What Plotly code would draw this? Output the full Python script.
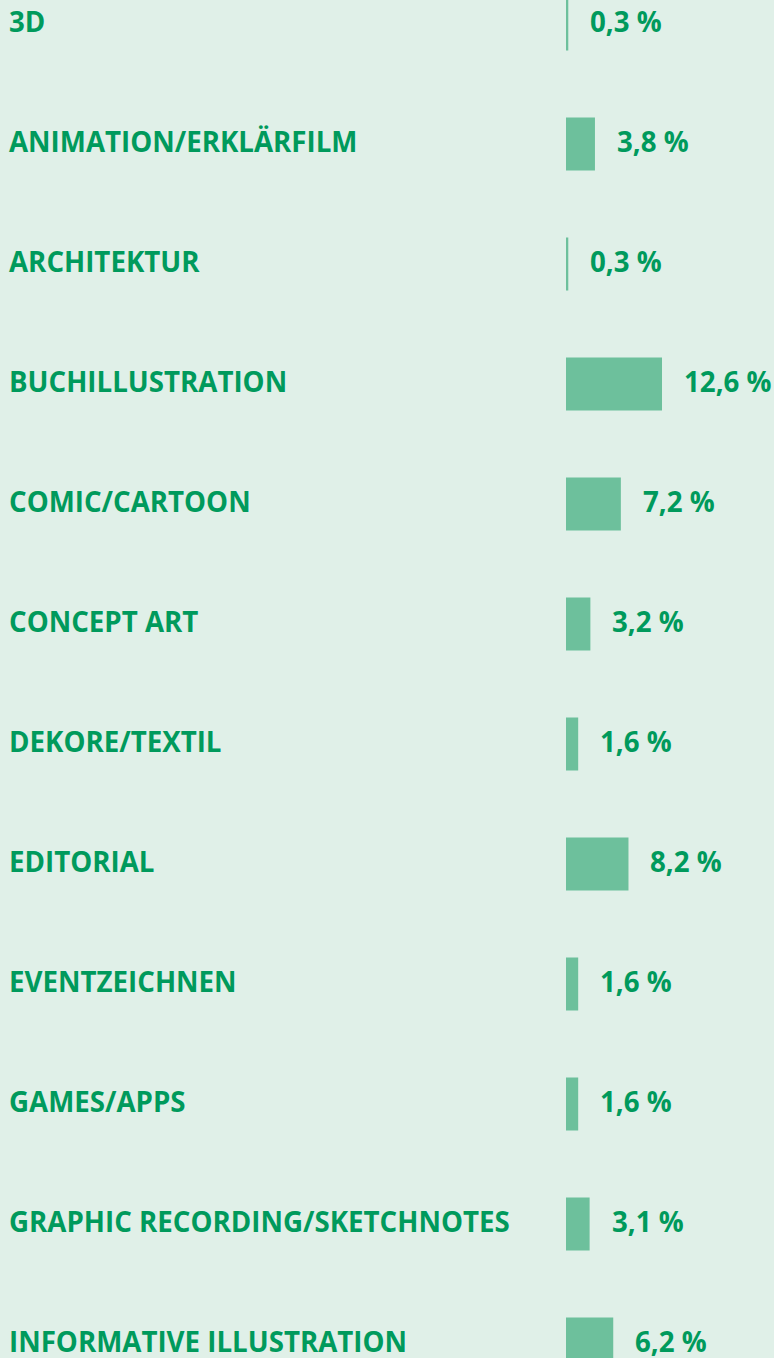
import plotly.graph_objects as go

categories = ["3D", "ANIMATION/ERKLÄRFILM", "ARCHITEKTUR", "BUCHILLUSTRATION",
              "COMIC/CARTOON", "CONCEPT ART", "DEKORE/TEXTIL", "EDITORIAL",
              "EVENTZEICHNEN", "GAMES/APPS", "GRAPHIC RECORDING/SKETCHNOTES",
              "INFORMATIVE ILLUSTRATION"]
values = [0.3, 3.8, 0.3, 12.6, 7.2, 3.2, 1.6, 8.2, 1.6, 1.6, 3.1, 6.2]
value_labels = ["0,3 %", "3,8 %", "0,3 %", "12,6 %", "7,2 %", "3,2 %", "1,6 %",
                "8,2 %", "1,6 %", "1,6 %", "3,1 %", "6,2 %"]

W, H = 774, 1358
bar_x0 = 566          # pixel where bars start
px_per_pct = 7.62
row_px = 120
first_row_px = 24

bg = "#e0f0e8"
text_green = "#009a5c"
bar_green = "#6dc09c"
font_family = "Open Sans"
font_size = 27.7

fig = go.Figure()

fig.add_trace(go.Bar(
    x=values, y=categories, orientation="h",
    marker=dict(color=bar_green, line=dict(width=0)),
    hoverinfo="skip",
))

# category names on the left
for cat in categories:
    fig.add_annotation(x=7 / W, xref="paper", y=cat, yref="y",
                       text=f"<b>{cat}</b>", showarrow=False, xanchor="left",
                       yshift=3,
                       font=dict(family=font_family, size=font_size, color=text_green))

# value labels right of bars
for cat, v, lab in zip(categories, values, value_labels):
    fig.add_annotation(x=v, y=cat, text=f"<b>{lab}</b>", showarrow=False,
                       xanchor="left", xshift=20, yshift=3,
                       font=dict(family=font_family, size=font_size, color=text_green))

y_top = -first_row_px / row_px
y_bot = (H - first_row_px) / row_px

fig.update_layout(
    width=W, height=H,
    margin=dict(l=0, r=0, t=0, b=0),
    paper_bgcolor=bg, plot_bgcolor=bg,
    bargap=1 - 53 / row_px,
    showlegend=False,
    xaxis=dict(range=[-bar_x0 / px_per_pct, (W - bar_x0) / px_per_pct],
               visible=False, fixedrange=True),
    yaxis=dict(range=[y_bot, y_top], visible=False, fixedrange=True,
               categoryorder="array", categoryarray=categories),
)

fig.write_html("out.html", config={"displayModeBar": False},
               post_script="document.body.style.margin='0';")
